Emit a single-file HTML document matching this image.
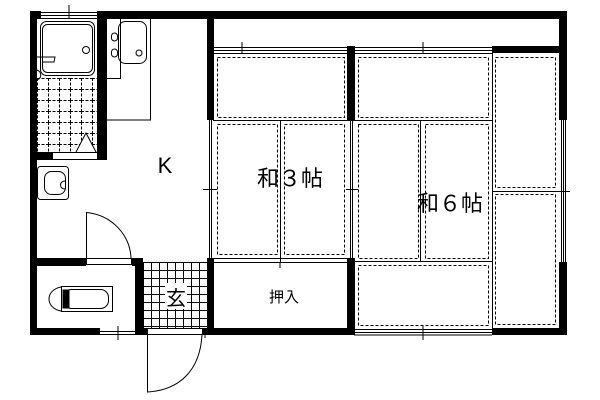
<!DOCTYPE html>
<html><head><meta charset="utf-8"><style>html,body{margin:0;padding:0;background:#fff}svg{display:block}</style></head>
<body>
<svg width="600" height="400" viewBox="0 0 600 400" xmlns="http://www.w3.org/2000/svg" font-family="Liberation Sans, Noto Sans CJK JP, sans-serif">
<defs>
<pattern id="g" x="37" y="78" width="11" height="11" patternUnits="userSpaceOnUse"><path d="M0 0.5H11M0.5 0V11" stroke="#000" stroke-width="1" stroke-dasharray="3 1.5" fill="none"/></pattern>
<pattern id="t" x="143" y="262" width="8" height="8" patternUnits="userSpaceOnUse"><path d="M0 0.5H8M0.5 0V8" stroke="#000" stroke-width="1" fill="none"/></pattern>
</defs>
<g fill="#000">
<rect x="30" y="11" width="11" height="8"/>
<rect x="97" y="11" width="470" height="8"/>
<rect x="30" y="11" width="7" height="324"/>
<rect x="97" y="11" width="10" height="149"/>
<rect x="30" y="152" width="22" height="8"/>
<rect x="207" y="11" width="7" height="109"/>
<rect x="207" y="258" width="7" height="77"/>
<rect x="347" y="46" width="8" height="74"/>
<rect x="347" y="258" width="8" height="77"/>
<rect x="492" y="46" width="75" height="7"/>
<rect x="559" y="11" width="8" height="109"/>
<rect x="559" y="262" width="8" height="73"/>
<rect x="30" y="328" width="70" height="7"/>
<rect x="135" y="328" width="12" height="7"/>
<rect x="202" y="328" width="152" height="7"/>
<rect x="492" y="328" width="75" height="7"/>
<rect x="30" y="258" width="56" height="8"/>
<rect x="132" y="258" width="11" height="8"/>
<rect x="135" y="258" width="8" height="77"/>
</g>
<g fill="none" stroke="#000" stroke-width="1">
<rect x="37" y="78" width="60" height="74" fill="url(#g)" stroke="none"/>
<rect x="143" y="262" width="64" height="66" fill="url(#t)" stroke="none"/>
<rect x="165" y="283" width="22" height="26" fill="#fff" stroke="none"/>
<path d="M213 47.5H347M213 50.5H347M213 53.5H347M242 42V53"/>
<path d="M213 120.5H492M280.5 120V262M213 258.5H347M213 262.5H347M280 262V268"/>
<path d="M354 47.5H492M354 50.5H492M354 53.5H492M423 42V53"/>
<path d="M492.5 53V328M420.5 120V262M354 261.5H492M492 191.5H559"/>
<g stroke-dasharray="3 2">
<rect x="217.5" y="57.5" width="127" height="60"/>
<rect x="217.5" y="124.5" width="60" height="130"/>
<rect x="284.5" y="124.5" width="60" height="130"/>
<rect x="358.5" y="57.5" width="130" height="60"/>
<rect x="358.5" y="124.5" width="60" height="134"/>
<rect x="425.5" y="124.5" width="63" height="134"/>
<rect x="358.5" y="265.5" width="130" height="60"/>
<rect x="495.5" y="57.5" width="60" height="130"/>
<rect x="495.5" y="194.5" width="60" height="130"/>
</g>
<path d="M209.5 120V258M211.5 120V258M350.5 120V258M352.5 120V258M561.5 120V262M563.5 120V262M565.5 120V262"/>
<path d="M203 189.5H217M346 189.5H358M557 191.5H570"/>
<path d="M354 329.5H492M354 332.5H492M354 335H492M423 326V340M205 331V338"/>
<path d="M41 12.5H97M41 15.5H97M41 18.5H97M69 5V19M100 331.5H135M100 334.5H135M118 326V340"/>
<rect x="40.5" y="21.5" width="54" height="54" rx="6"/>
<rect x="42.5" y="24.5" width="50" height="48" rx="5"/>
<circle cx="86" cy="50" r="3.5"/>
<path d="M37 57H55L54 62H42M37 70C42 72 42 78 37 80"/>
<path d="M76 152L86 133L96 152" fill="#fff"/>
<rect x="52.5" y="152.5" width="45" height="7" fill="#fff"/>
<path d="M107 78.5H120.5V19M150.5 19V120H107"/>
<rect x="118.5" y="21.5" width="28" height="42" rx="7"/>
<circle cx="139" cy="53" r="3"/>
<rect x="111.5" y="33" width="6" height="8" rx="3"/><rect x="111.5" y="49" width="6" height="8" rx="3"/>
<rect x="37.5" y="166.5" width="31" height="33" rx="3"/>
<rect x="44.5" y="171.5" width="21" height="23" rx="7"/>
<path d="M65 181C59 181 59 189 65 189"/>
<path d="M86.5 258V212.5C112 215 130 235 131 258"/>
<rect x="86.5" y="258.5" width="45" height="6" fill="#fff"/>
<rect x="61.5" y="286.5" width="51" height="25"/>
<path d="M61 287C45 290 45 308 61 311"/>
<rect x="63.5" y="289.5" width="45" height="19" rx="8"/>
<rect x="63" y="290" width="6" height="18" fill="#000"/>
<path d="M147.5 335V392C180 390 200 370 202 335"/>
<rect x="147.5" y="328.5" width="55" height="6" fill="#fff"/>
</g>
<g font-size="22" text-anchor="middle">
<text x="165" y="173">K</text>
<text x="290" y="186">和３帖</text>
<text x="450" y="211">和６帖</text>
<text x="176" y="305" font-size="20">玄</text>
<text x="284" y="302" font-size="15">押入</text>
</g>
</svg>
</body></html>
